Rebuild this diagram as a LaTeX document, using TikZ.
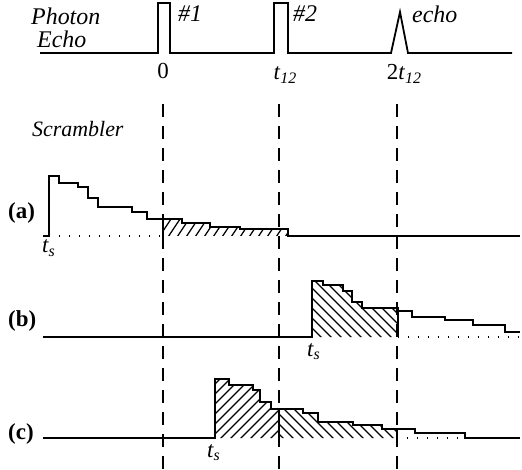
\documentclass[tikz,border=0pt]{standalone}
\usepackage{fontspec}
\setmainfont{Liberation Serif}
\newcommand{\subidx}[1]{\raisebox{-0.35ex}{\fontsize{16}{18}\selectfont\itshape #1}}
\begin{document}
\begin{tikzpicture}[x=1bp,y={(0bp,-1bp)},
  trace/.style={line width=1.8bp, line join=miter},
  guide/.style={line width=1.3bp, dash pattern=on 13bp off 9bp},
  dotline/.style={line width=1.1bp, dash pattern=on 1.2bp off 8.8bp},
  hatchline/.style={line width=1.25bp},
  biglbl/.style={inner sep=0pt, font=\fontsize{24}{26}\selectfont\itshape, anchor=base west},
  scrlbl/.style={inner sep=0pt, font=\fontsize{22}{26}\selectfont\itshape, anchor=base west},
  tslbl/.style={inner sep=0pt, font=\fontsize{23}{26}\selectfont\itshape, anchor=base west},
  num/.style={inner sep=0pt, font=\fontsize{23}{26}\selectfont, anchor=base},
  tag/.style={inner sep=0pt, font=\fontsize{23}{26}\selectfont\bfseries, anchor=base west},
]
\useasboundingbox (0,0) rectangle (522,470);

% ---- top: photon echo sequence
\draw[trace] (40,53) -- (158,53) -- (158,3) -- (170,3) -- (170,53) -- (274,53) -- (274,3) -- (288,3) -- (288,53)
  -- (391,53) -- (400,12) -- (408,53) -- (512,53);
\node[biglbl] (photon) at (31,25) {Photon};
\node[biglbl] (echoL) at (37,48) {Echo};
\node[biglbl] (p1) at (178,22) {\#1};
\node[biglbl] (p2) at (293,22) {\#2};
\node[biglbl] (echo) at (412,23) {echo};
\node[num] (zero) at (163,79) {0};
\node[num] (t12) at (285,80) {\textit{t}\subidx{12}};
\node[num] (tt12) at (404,80) {2\textit{t}\subidx{12}};
\node[scrlbl] (scr) at (32,137) {Scrambler};

% ---- dashed guide lines
\coordinate (g1a) at (163,104); \coordinate (g1b) at (163,470);
\coordinate (g2a) at (279,104); \coordinate (g2b) at (279,470);
\coordinate (g3a) at (397,104); \coordinate (g3b) at (397,470);
\draw[guide] (g1a) -- (g1b);
\draw[guide] (g2a) -- (g2b);
\draw[guide] (g3a) -- (g3b);

% ---- (a)
\begin{scope}
\clip (163,236) -- (163,219) -- (182,219) -- (182,223) -- (210,223) -- (210,227) -- (240,227) -- (240,229) -- (288,229) -- (288,236) -- cycle;
\foreach \k in {150,159,...,300} \draw[hatchline] (\k,237) -- ++(14,-21);
\end{scope}
\draw[dotline] (49,236) -- (163,236);
\draw[trace] (43,236) -- (49,236) -- (49,176) -- (59,176) -- (59,183) -- (78,183) -- (78,187) -- (88,187) -- (88,198)
  -- (98,198) -- (98,207) -- (132,207) -- (132,212) -- (147,212) -- (147,219) -- (182,219) -- (182,223) -- (210,223)
  -- (210,227) -- (240,227) -- (240,229) -- (288,229) -- (288,236) -- (520,236);
\draw[trace] (163,219) -- (163,236);
\node[tag] (la) at (8,219) {(a)};
\node[tslbl] (tsa) at (42,253) {t\subidx{s}};

% ---- (b)
\begin{scope}
\clip (312,337) -- (312,281) -- (323,281) -- (323,285) -- (343,285) -- (343,291) -- (352,291) -- (352,302) -- (362,302) -- (362,308) -- (398,308) -- (398,337) -- cycle;
\foreach \k in {312,322,...,470} \draw[hatchline] (\k,338) -- ++(-62,-62);
\end{scope}
\draw[dotline] (398,337) -- (520,337);
\draw[trace] (43,337) -- (312,337) -- (312,281) -- (323,281) -- (323,285) -- (343,285) -- (343,291) -- (352,291) -- (352,302)
  -- (362,302) -- (362,308) -- (398,308) -- (398,337);
\draw[trace] (398,311) -- (412,311) -- (412,317) -- (445,317) -- (445,320) -- (473,320) -- (473,325) -- (505,325) -- (505,332) -- (520,332);
\node[tag] (lb) at (8,326) {(b)};
\node[tslbl] (tsb) at (307,356) {t\subidx{s}};

% ---- (c)
\begin{scope}
\clip (215,438) -- (215,379) -- (229,379) -- (229,385) -- (253,385) -- (253,390) -- (260,390) -- (260,402) -- (271,402) -- (271,409) -- (279,409) -- (279,438) -- cycle;
\foreach \k in {140,150,...,290} \draw[hatchline] (\k,439) -- ++(62,-62);
\end{scope}
\begin{scope}
\clip (279,438) -- (279,409) -- (303,409) -- (303,413) -- (318,413) -- (318,422) -- (353,422) -- (353,425) -- (382,425) -- (382,429) -- (397,429) -- (397,438) -- cycle;
\foreach \k in {284,294,...,440} \draw[hatchline] (\k,439) -- ++(-40,-40);
\end{scope}
\draw[dotline] (397,438) -- (465,438);
\draw[trace] (43,438) -- (215,438) -- (215,379) -- (229,379) -- (229,385) -- (253,385) -- (253,390) -- (260,390) -- (260,402)
  -- (271,402) -- (271,409) -- (303,409) -- (303,413) -- (318,413) -- (318,422) -- (353,422) -- (353,425) -- (382,425)
  -- (382,429) -- (397,429) -- (415,429) -- (415,433) -- (465,433) -- (465,438) -- (520,438);
\draw[trace] (279,409) -- (279,438);
\draw[trace] (397,429) -- (397,438);
\node[tag] (lc) at (8,439) {(c)};
\node[tslbl] (tsc) at (207,457) {t\subidx{s}};
\end{tikzpicture}
\end{document}
